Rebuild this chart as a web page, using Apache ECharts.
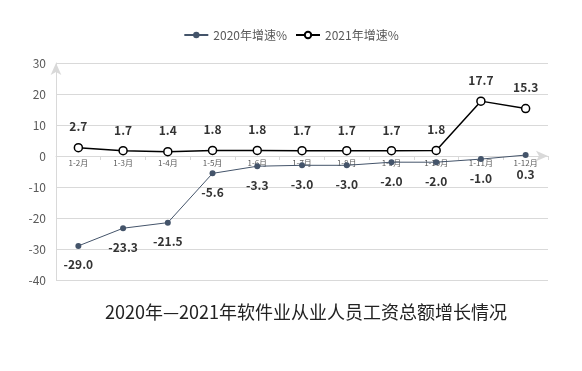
<!DOCTYPE html>
<html><head><meta charset="utf-8">
<script src="https://cdn.jsdelivr.net/npm/echarts@6/dist/echarts.min.js"></script>
<style>html,body{margin:0;padding:0;background:#fff}#c{width:582px;height:371px}</style>
</head><body><div id="c"></div>
<script>
const categories = ['1-2月','1-3月','1-4月','1-5月','1-6月','1-7月','1-8月','1-9月','1-10月','1-11月','1-12月'];
const growth2020 = [-29.0,-23.3,-21.5,-5.6,-3.3,-3.0,-3.0,-2.0,-2.0,-1.0,0.3];
const growth2021 = [2.7,1.7,1.4,1.8,1.8,1.7,1.7,1.7,1.8,17.7,15.3];
const seriesNames = ['2020年增速%','2021年增速%'];
const yTicks = {min:-40,max:30,interval:10};
const titleText = '2020年—2021年软件业从业人员工资总额增长情况';

const gridTop = 63, gridBottom = 91, H = 371;
const plotH = H - gridTop - gridBottom;
const zeroOffset = -plotH * (0 - yTicks.min) / (yTicks.max - yTicks.min);

const chart = echarts.init(document.getElementById('c'));
chart.setOption({
  animation:false,
  textStyle:{fontFamily:'"Noto Sans CJK SC", "Noto Sans", sans-serif'},
  title:{text:titleText,left:100,top:298,textStyle:{fontSize:18,fontWeight:'normal',color:'#222',fontFamily:'"Noto Sans CJK SC", serif'}},
  legend:{top:24,left:'center',itemWidth:24,itemHeight:8,itemGap:8,textStyle:{fontSize:12,color:'#595959'},data:seriesNames},
  grid:{left:56,right:34,top:gridTop,bottom:gridBottom,containLabel:false},
  xAxis:{type:'category',data:categories,boundaryGap:true,offset:zeroOffset,
    axisLine:{onZero:false,lineStyle:{color:'#d9d9d9',width:1},symbol:['none','arrow'],symbolSize:[8,12]},
    axisTick:{show:true,alignWithLabel:false,length:4,lineStyle:{color:'#d9d9d9'}},
    axisLabel:{fontSize:8,color:'#595959',margin:3}},
  yAxis:{type:'value',min:yTicks.min,max:yTicks.max,interval:yTicks.interval,
    axisLine:{show:true,lineStyle:{color:'#d9d9d9',width:1},symbol:['none','arrow'],symbolSize:[8,12]},
    axisTick:{show:false},
    axisLabel:{fontSize:12,color:'#595959',margin:10},
    splitLine:{lineStyle:{color:'#d9d9d9',width:1}}},
  series:[
    {name:seriesNames[0],type:'line',data:growth2020,symbol:'circle',symbolSize:6,z:3,
     itemStyle:{color:'#44546a'},lineStyle:{color:'#44546a',width:1},
     label:{show:true,position:'bottom',distance:10,fontSize:12,fontWeight:'bold',color:'#333',
       formatter:p=>p.value.toFixed(1)}},
    {name:seriesNames[1],type:'line',data:growth2021,symbol:'circle',symbolSize:8,z:4,
     itemStyle:{color:'#fff',borderColor:'#000',borderWidth:1.5},lineStyle:{color:'#000',width:1.5},
     label:{show:true,position:'top',distance:10,fontSize:12,fontWeight:'bold',color:'#333',
       formatter:p=>p.value.toFixed(1)}}
  ]
});
</script></body></html>
